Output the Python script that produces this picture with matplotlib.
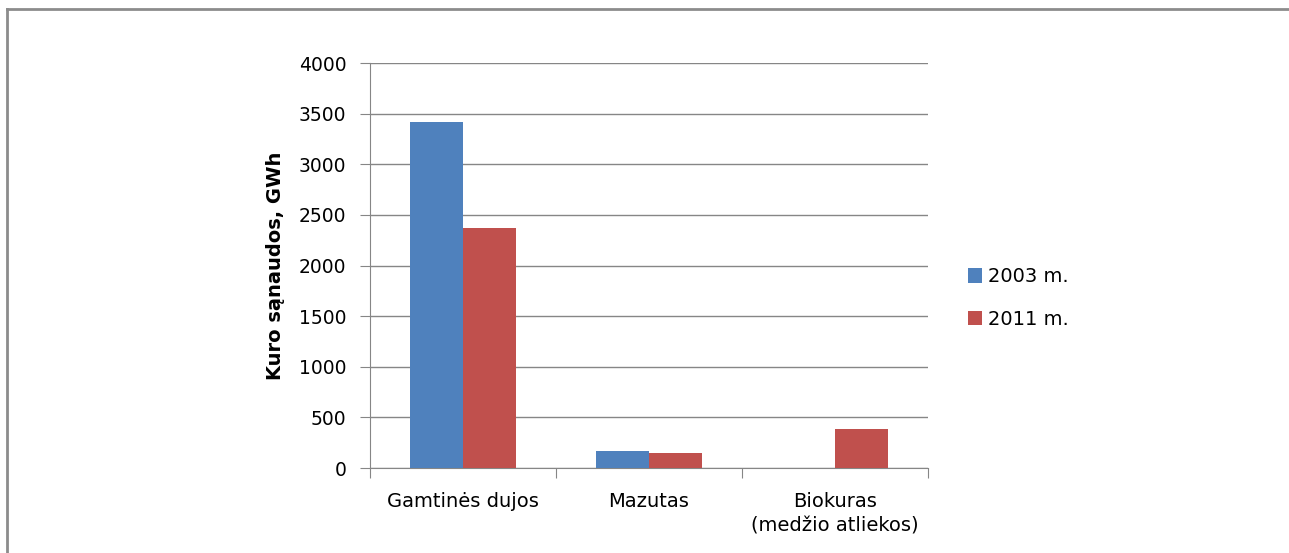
import numpy as np
import matplotlib.pyplot as plt
from matplotlib.lines import Line2D

categories = ['Gamtinės dujos', 'Mazutas', 'Biokuras\n(medžio atliekos)']
series_names = ['2003 m.', '2011 m.']
values_2003 = [3420, 170, 0]
values_2011 = [2370, 150, 390]
colors = ['#4f81bd', '#c0504d']

plt.rcParams['font.family'] = ['DejaVu Sans']

fig = plt.figure(figsize=(12.89, 5.53), dpi=100)
ax = fig.add_axes([370 / 1289, 1 - 468 / 553, 558 / 1289, 405 / 553])

x = np.arange(len(categories))
w = 0.285
ax.bar(x - w / 2, values_2003, w, color=colors[0], label=series_names[0], zorder=3)
ax.bar(x + w / 2, values_2011, w, color=colors[1], label=series_names[1], zorder=3)

ax.set_xlim(-0.5, 2.5)
ax.set_ylim(0, 4000)
ax.set_yticks(range(0, 4001, 500))
ax.yaxis.grid(True, color='#868686', linewidth=1, zorder=0)
ax.set_axisbelow(True)

for s in ['top', 'right']:
    ax.spines[s].set_visible(False)
for s in ['left', 'bottom']:
    ax.spines[s].set_color('#868686')

ax.set_xticks([-0.5, 0.5, 1.5, 2.5], minor=False)
ax.set_xticklabels([])
ax.set_xticks(x, minor=True)
ax.set_xticklabels(categories, minor=True, fontsize=14, linespacing=1.4)
ax.tick_params(axis='x', which='major', length=7, color='#868686', direction='out')
ax.tick_params(axis='x', which='minor', length=0, pad=17)
ax.tick_params(axis='y', length=7, color='#868686', labelsize=13.5, pad=10)

ax.set_ylabel('Kuro sąnaudos, GWh', fontsize=14, fontweight='bold', labelpad=10)

ax.legend(loc='center left', bbox_to_anchor=(1.04, 0.42), frameon=False,
          fontsize=14, handlelength=0.75, handleheight=0.75, handletextpad=0.3,
          labelspacing=1.2)

# outer chart frame
fig.add_artist(Line2D([6.5 / 1289, 6.5 / 1289], [0, 1 - 8.5 / 553],
                      transform=fig.transFigure, color='#8c8c8c', linewidth=2))
fig.add_artist(Line2D([6.5 / 1289, 1], [1 - 8.5 / 553, 1 - 8.5 / 553],
                      transform=fig.transFigure, color='#8c8c8c', linewidth=2))

fig.savefig('out.png', dpi=100)
